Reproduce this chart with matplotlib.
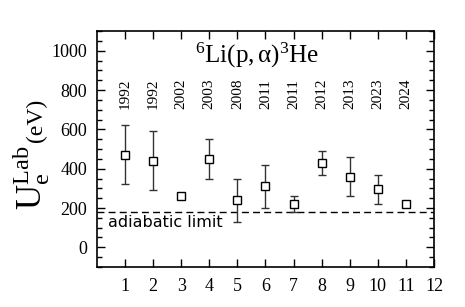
import numpy as np
import matplotlib
matplotlib.use("Agg")
import matplotlib.pyplot as plt
from matplotlib.ticker import MultipleLocator

plt.rcParams["font.family"] = ["Liberation Serif", "DejaVu Serif"]
plt.rcParams["mathtext.fontset"] = "custom"
plt.rcParams["mathtext.rm"] = "Liberation Serif"
plt.rcParams["mathtext.it"] = "Liberation Serif:italic"

# 数据：实验编号、电子屏蔽势 Ue (eV)、误差、年份
exp_no = [1, 2, 3, 4, 5, 6, 7, 8, 9, 10, 11]
ue = [470, 440, 260, 450, 240, 310, 220, 430, 360, 295, 220]
ue_err = [150, 150, 0, 100, 110, 110, 40, 60, 100, 75, 0]
years = ["1992", "1992", "2002", "2003", "2008", "2011", "2011",
         "2012", "2013", "2023", "2024"]
adiabatic = 180

x = np.array(exp_no)
y = np.array(ue)
err = np.array(ue_err)
has_err = err > 0

W, H = 465, 307
fig = plt.figure(figsize=(W / 100, H / 100), dpi=100)
ax = fig.add_axes([0.2086, 0.1303, 0.7247, 0.7687])

# 误差棒（仅有误差的点）
ax.errorbar(x[has_err], y[has_err], yerr=err[has_err], fmt="none",
            ecolor="#333333", elinewidth=1.0, capsize=3, capthick=1.0, zorder=2)
# 空心方块
ax.plot(x, y, linestyle="none", marker="s", markersize=5.6,
        markerfacecolor="white", markeredgecolor="black",
        markeredgewidth=1.0, zorder=3)

# 绝热极限
ax.axhline(adiabatic, color="black", linestyle=(0, (5, 3)), linewidth=1.0, zorder=1)
ax.text(0.39, 128, "adiabatic limit", family="DejaVu Sans", fontsize=11.5,
        ha="left", va="center")

# 年份标签
for xi, yr in zip(exp_no, years):
    ax.text(xi, 780, yr, rotation=90, ha="center", va="center", fontsize=11)

# 反应式标题
ax.text(5.7, 975, r"$\mathregular{^{6}Li(p,α)^{3}He}$", ha="center",
        va="center", fontsize=18)

ax.set_xlim(0, 12)
ax.set_ylim(-100, 1100)
ax.set_xticks(range(1, 13))
ax.set_yticks(range(0, 1001, 200))
ax.yaxis.set_minor_locator(MultipleLocator(50))

ax.tick_params(which="both", direction="in", top=True, right=True,
               labelsize=13, width=1.0)
ax.tick_params(which="major", length=6)
ax.tick_params(which="minor", length=3.5)
ax.tick_params(axis="y", pad=7)
ax.tick_params(axis="x", pad=8)
for sp in ax.spines.values():
    sp.set_linewidth(1.2)

# 纵轴标签：Ue^Lab 大字 + (eV) 小字，紧接着放
t1 = fig.text(42 / W, 1 - 210 / H, r"$\mathregular{U_e^{Lab}}$", rotation=90,
              rotation_mode="anchor", ha="left", va="baseline", fontsize=25)
fig.canvas.draw()
bb = t1.get_window_extent()
fig.text(42 / W, (bb.y1 + 4) / H, "(eV)", rotation=90,
         rotation_mode="anchor", ha="left", va="baseline", fontsize=17)

fig.savefig("out.png", dpi=100, facecolor="white")
